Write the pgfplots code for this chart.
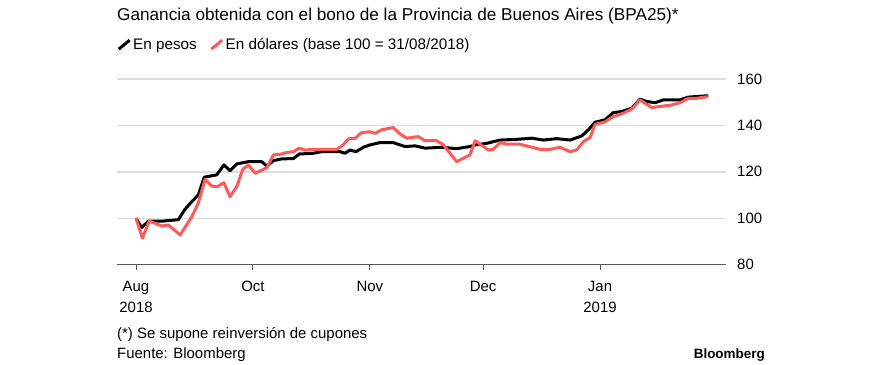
\documentclass[border=0pt]{standalone}
\usepackage{fontspec}
\setmainfont{Liberation Sans}
\usepackage{pgfplots}
\pgfplotsset{compat=1.18}
\definecolor{bred}{RGB}{255,90,90}
\definecolor{gridc}{RGB}{221,221,221}
\definecolor{axc}{RGB}{90,90,90}
\begin{document}
\begin{tikzpicture}[x=1bp,y=1bp]
\useasboundingbox (0,0) rectangle (880,364);
\node[anchor=base west, inner sep=0pt, font=\fontsize{17.25}{20}\selectfont] at (117,344) {Ganancia obtenida con el bono de la Provincia de Buenos Aires (BPA25)*};
\begin{axis}[
  at={(117bp,99.3bp)}, anchor=south west,
  scale only axis, width=609bp, height=185.7bp,
  xmin=-5.04, xmax=156.4, ymin=80, ymax=160,
  axis x line*=bottom, axis y line*=right,
  y axis line style={draw=none},
  x axis line style={draw=axc, line width=1.3bp, -},
  xtick={0,31,62,92,123},
  xticklabels={{Aug\\2018},Oct,Nov,Dec,{Jan\\2019}},
  xticklabel style={align=center, font=\fontsize{15}{21}\selectfont, anchor=north, inner sep=0pt, yshift=-11bp},
  x tick style={draw=axc, line width=1bp},
  tick align=outside, major tick length=5bp,
  ytick={80,100,120,140,160},
  yticklabel pos=right,
  y tick style={draw=none},
  yticklabel style={anchor=west, inner sep=0pt, xshift=6bp, font=\fontsize{15}{17}\selectfont},
  /pgf/number format/assume math mode=true,
  ymajorgrids, major grid style={draw=gridc, line width=1.3bp},
  legend style={draw=none, fill=none, at={(0,1.185)}, anchor=west, legend columns=2,
    font=\fontsize{15.3}{18}\selectfont, inner sep=0pt,
    /tikz/every even column/.append style={column sep=11bp}},
  legend image code/.code={\draw[#1] (0bp,-4.5bp) -- (11bp,4.5bp);},
]
\addplot[black, line width=3bp, line join=round] coordinates {
(0,100) (1.5,96) (3.3,98.8) (7.2,98.8) (11.2,99.4) (13,103.9) (14.8,107.2) (16.5,110)
(18.1,117.7) (21.4,118.7) (23.3,123) (24.9,120.5) (26.7,123.4) (29.8,124.4) (33.3,124.4)
(34.7,122.5) (36.4,124.8) (38.6,125.6) (41.7,125.7) (43.3,127.7) (47,128) (49.2,128.7)
(54.1,128.7) (55.4,128) (56.7,129.4) (58.3,128.7) (60.3,130.6) (62,131.6) (64.7,132.6)
(68.2,132.6) (71.3,130.9) (74,131.2) (76.6,130.2) (81,130.6) (85,130) (88.5,130.9)
(89.9,131.6) (93,132.3) (96.5,133.7) (100.9,134) (104.9,134.5) (108,133.7) (111.5,134.3)
(115.1,133.7) (118.2,135.5) (119.9,138.1) (121.7,141.4) (124.3,142.4) (126.5,145.5)
(128.8,146) (131.4,147.4) (133.6,151.3) (135.4,150.3) (137.6,149.8) (139.8,151)
(144.2,151) (146.4,152.2) (151.7,152.8)
};
\addlegendentry{En pesos}
\addplot[bred, line width=3bp, line join=round] coordinates {
(0,100) (1.7,91.4) (3.5,98.8) (6.8,96.7) (8.6,97.1) (11.7,92.8) (14.8,100.7) (16.5,106.5)
(18.3,116.8) (20.1,113.9) (21.5,113.6) (23.3,115.3) (24.9,109.3) (26.7,113.6) (28.3,121.1)
(29.8,123) (31.6,119.4) (34.7,121.8) (36.4,127.3) (38.2,127.6) (39.9,128.3) (41.7,128.7)
(43.3,130.2) (44.8,129.4) (47,129.7) (53.2,129.7) (54.9,131.6) (56.3,134.2) (58.1,134.5)
(59.8,136.9) (62,137.3) (63.4,136.6) (65.1,138.1) (68.2,139.1) (70,136.3) (71.8,134.5)
(74.8,135.2) (76.6,133.4) (79.7,133.4) (81.5,131.6) (85,124.4) (88.5,127.3) (89.9,133.4)
(93.4,129.4) (94.7,129.7) (96.5,132.6) (98.3,131.9) (101.8,131.9) (107.1,129.7)
(109.8,129.7) (112.4,130.6) (115.1,128.7) (116.8,129.4) (118.6,133) (120.4,134.9)
(121.7,140.5) (124.3,141.5) (126.5,143.8) (128.8,145) (131.4,147) (133.6,151) (136.7,147.7)
(142,148.8) (144.2,149.8) (146.4,151.7) (148.6,151.7) (151.7,152.4)
};
\addlegendentry{En dólares (base 100 = 31/08/2018)}
\end{axis}
\node[anchor=base west, inner sep=0pt, font=\fontsize{15}{17}\selectfont] at (117,26) {(*) Se supone reinversión de cupones};
\node[anchor=base west, inner sep=0pt, font=\fontsize{15}{17}\selectfont] at (117,6) {Fuente: Bloomberg};
\node[anchor=base east, inner sep=0pt, font=\bfseries\fontsize{13.5}{16}\selectfont] at (765,6) {Bloomberg};
\end{tikzpicture}
\end{document}
